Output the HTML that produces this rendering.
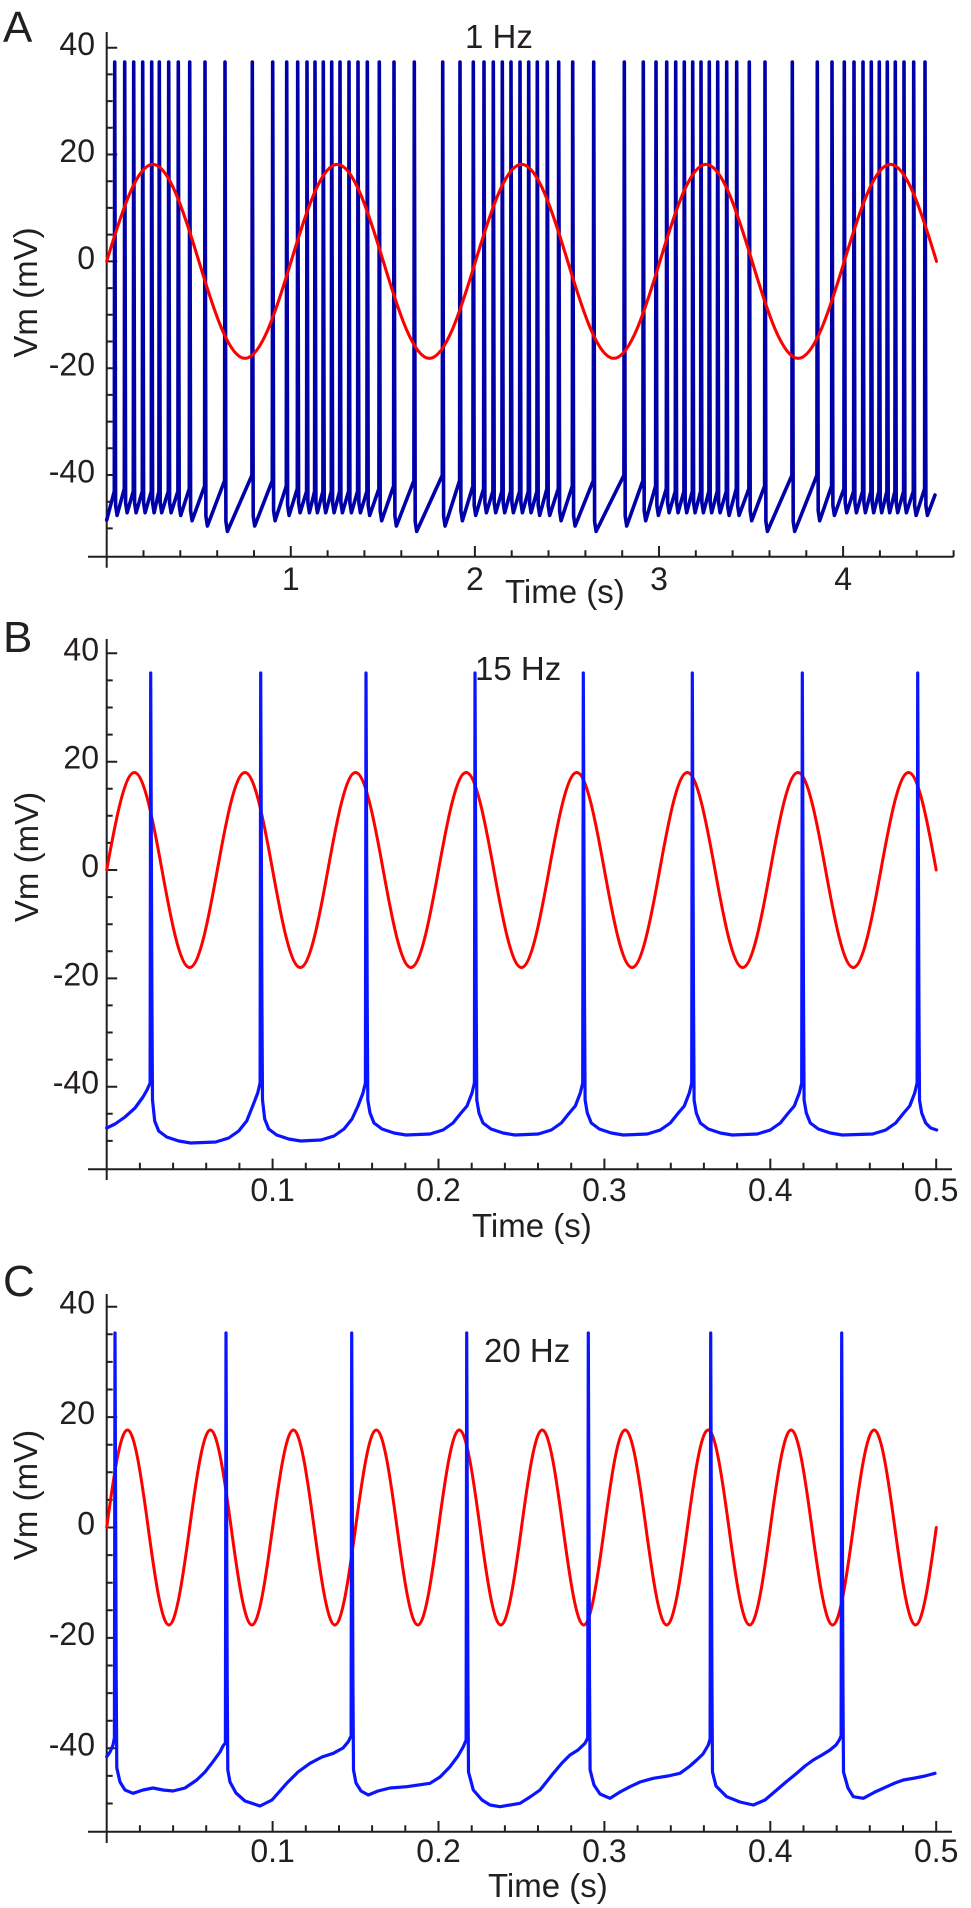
<!DOCTYPE html>
<html><head><meta charset="utf-8"><style>
html,body{margin:0;padding:0;background:#fff}
svg{display:block}
text{font-family:"Liberation Sans",Arial,sans-serif;fill:#231f20}
</style></head><body>
<svg width="971" height="1908" viewBox="0 0 971 1908" xmlns="http://www.w3.org/2000/svg" xmlns:xlink="http://www.w3.org/1999/xlink">
<defs>
<path id="pA" d="M0,0c15.04,-49.69 30.19,-97 46.1,-97c15.92,0 31.07,47.31 46.1,97c15.04,49.69 30.19,97 46.1,97c15.92,0 31.07,-47.31 46.1,-97"/>
<path id="hA" d="M0,0c15.04,-49.69 30.19,-97 46.1,-97c15.92,0 31.07,47.31 46.1,97"/>
<path id="pB" d="M0,0c9.02,-49.95 18.1,-97.5 27.65,-97.5c9.54,0 18.63,47.55 27.65,97.5c9.02,49.95 18.1,97.5 27.65,97.5c9.54,0 18.63,-47.55 27.65,-97.5"/>
<path id="hB" d="M0,0c9.02,-49.95 18.1,-97.5 27.65,-97.5c9.54,0 18.63,47.55 27.65,97.5"/>
<path id="pC" d="M0,0c6.76,-49.95 13.58,-97.5 20.74,-97.5c7.16,0 13.97,47.55 20.74,97.5c6.76,49.95 13.58,97.5 20.74,97.5c7.16,0 13.97,-47.55 20.74,-97.5"/>
</defs>
<rect width="971" height="1908" fill="#fff"/>

<!-- PANEL A -->
<text x="3" y="42" font-size="44">A</text>
<text x="465" y="48" font-size="33">1 Hz</text>
<g stroke="#231f20" stroke-width="2" fill="none">
<path d="M106.7,32V567.7M88,556.7H953.6"/>
<path d="M106.7,47.7h10.5M106.7,154.5h10.5M106.7,261.35h10.5M106.7,368.2h10.5M106.7,475h10.5"/>
<path d="M106.7,74.4h6M106.7,101.1h6M106.7,127.8h6M106.7,181.2h6M106.7,207.9h6M106.7,234.6h6M106.7,288.1h6M106.7,314.8h6M106.7,341.5h6M106.7,394.9h6M106.7,421.6h6M106.7,448.3h6M106.7,501.7h6M106.7,528.4h6"/>
<path d="M290.8,556.7v-10.7M474.9,556.7v-10.7M659,556.7v-10.7M843.1,556.7v-10.7"/>
<path d="M143.5,556.7v-6.5M180.3,556.7v-6.5M217.2,556.7v-6.5M254,556.7v-6.5M327.6,556.7v-6.5M364.4,556.7v-6.5M401.3,556.7v-6.5M438.1,556.7v-6.5M511.7,556.7v-6.5M548.5,556.7v-6.5M585.4,556.7v-6.5M622.2,556.7v-6.5M695.8,556.7v-6.5M732.6,556.7v-6.5M769.5,556.7v-6.5M806.3,556.7v-6.5M879.9,556.7v-6.5M916.7,556.7v-6.5M953.6,556.7v-6.5"/>
</g>
<g font-size="32" text-anchor="end">
<text x="95" y="55.2">40</text>
<text x="95" y="162">20</text>
<text x="95" y="268.9">0</text>
<text x="95" y="375.7">-20</text>
<text x="95" y="482.5">-40</text>
</g>
<g font-size="32" text-anchor="middle">
<text x="290.8" y="590">1</text>
<text x="474.9" y="590">2</text>
<text x="659" y="590">3</text>
<text x="843.1" y="590">4</text>
</g>
<text x="505" y="603" font-size="33">Time (s)</text>
<text transform="translate(37,292.5) rotate(-90)" text-anchor="middle" font-size="33">Vm (mV)</text>

<path fill="none" stroke="#0000a8" stroke-width="3.6" stroke-linejoin="round" stroke-linecap="round" d="M106.7,520L114.3,491.3L114.7,62L115.6,505.4L117.1,515.4L124.3,488.7L124.7,62L125.6,502.7L127.1,512.7L133.3,491.3L133.7,62L134.6,502.7L136.1,512.7L142.3,491.3L142.7,62L143.6,502.7L145.1,512.7L151.3,491.3L151.7,62L152.6,502.7L154.1,512.7L158.9,491.3L159.3,62L160.2,502.7L161.7,512.7L168.3,491.3L168.7,62L169.6,502.7L171.1,512.7L177.9,491.3L178.3,62L179.2,505.4L180.7,515.4L189.3,488.7L189.7,62L190.6,510.7L192.1,520.7L204.6,486L205,62L205.9,516L207.4,526L224.6,480.6L225,62L225.9,521.4L227.4,531.4L251.9,475.3L252.3,62L253.2,516L254.7,526L272.3,480.6L272.7,62L273.6,510.7L275.1,520.7L286.3,486L286.7,62L287.6,505.4L289.1,515.4L297.3,488.7L297.7,62L298.6,502.7L300.1,512.7L306.6,491.3L307,62L307.9,502.7L309.4,512.7L314.6,491.3L315,62L315.9,502.7L317.4,512.7L322.9,491.3L323.3,62L324.2,502.7L325.7,512.7L331.3,491.3L331.7,62L332.6,502.7L334.1,512.7L339.6,491.3L340,62L340.9,502.7L342.4,512.7L348.6,491.3L349,62L349.9,502.7L351.4,512.7L357.6,491.3L358,62L358.9,502.7L360.4,512.7L366.9,491.3L367.3,62L368.2,505.4L369.7,515.4L378.9,488.7L379.3,62L380.2,510.7L381.7,520.7L393.6,486L394,62L394.9,516L396.4,526L413.9,480.6L414.3,62L415.2,521.4L416.7,531.4L442.3,475.3L442.7,62L443.6,516L445.1,526L459.6,480.6L460,62L460.9,510.7L462.4,520.7L472.9,486L473.3,62L474.2,505.4L475.7,515.4L483.6,488.7L484,62L484.9,502.7L486.4,512.7L492.9,491.3L493.3,62L494.2,502.7L495.7,512.7L501.9,491.3L502.3,62L503.2,502.7L504.7,512.7L510.6,491.3L511,62L511.9,502.7L513.4,512.7L519.6,491.3L520,62L520.9,502.7L522.4,512.7L528.3,491.3L528.7,62L529.6,502.7L531.1,512.7L536.9,491.3L537.3,62L538.2,505.4L539.7,515.4L546.9,488.7L547.3,62L548.2,505.4L549.7,515.4L558.3,488.7L558.7,62L559.6,510.7L561.1,520.7L572.3,486L572.7,62L573.6,516L575.1,526L593.3,480.6L593.7,62L594.6,521.4L596.1,531.4L623.9,475.3L624.3,62L625.2,516L626.7,526L642.9,480.6L643.3,62L644.2,510.7L645.7,520.7L655.6,486L656,62L656.9,505.4L658.4,515.4L666.3,488.7L666.7,62L667.6,502.7L669.1,512.7L675.3,491.3L675.7,62L676.6,502.7L678.1,512.7L683.9,491.3L684.3,62L685.2,502.7L686.7,512.7L692.3,491.3L692.7,62L693.6,502.7L695.1,512.7L700.6,491.3L701,62L701.9,502.7L703.4,512.7L708.9,491.3L709.3,62L710.2,502.7L711.7,512.7L717.3,491.3L717.7,62L718.6,502.7L720.1,512.7L726.3,491.3L726.7,62L727.6,505.4L729.1,515.4L736.3,488.7L736.7,62L737.6,505.4L739.1,515.4L748.9,488.7L749.3,62L750.2,510.7L751.7,520.7L764.6,486L765,62L765.9,521.4L767.4,531.4L791.9,475.3L792.3,62L793.2,521.4L794.7,531.4L816.9,475.3L817.3,62L818.2,510.7L819.7,520.7L831.6,486L832,62L832.9,505.4L834.4,515.4L843.9,488.7L844.3,62L845.2,502.7L846.7,512.7L853.6,491.3L854,62L854.9,502.7L856.4,512.7L862.6,491.3L863,62L863.9,502.7L865.4,512.7L870.9,491.3L871.3,62L872.2,502.7L873.7,512.7L878.9,491.3L879.3,62L880.2,502.7L881.7,512.7L886.9,491.3L887.3,62L888.2,502.7L889.7,512.7L894.9,491.3L895.3,62L896.2,502.7L897.7,512.7L903.6,491.3L904,62L904.9,502.7L906.4,512.7L913.3,491.3L913.7,62L914.6,505.4L916.1,515.4L924.6,488.7L925,62L925.9,505.4L927.4,515.4L935,495"/>

<g fill="none" stroke="#ff0000" stroke-width="3.1" stroke-linecap="round">
<use xlink:href="#pA" href="#pA" transform="translate(106.7,261.35)"/>
<use xlink:href="#pA" href="#pA" transform="translate(291.1,261.35)"/>
<use xlink:href="#pA" href="#pA" transform="translate(475.5,261.35)"/>
<use xlink:href="#pA" href="#pA" transform="translate(659.9,261.35)"/>
<use xlink:href="#hA" href="#hA" transform="translate(844.3,261.35)"/>
</g>

<!-- PANEL B -->
<text x="3" y="652" font-size="44">B</text>
<text x="475" y="680" font-size="33">15 Hz</text>
<g stroke="#231f20" stroke-width="2" fill="none">
<path d="M106.7,639V1180M88,1169.3H952"/>
<path d="M106.7,653.3h10.5M106.7,761.7h10.5M106.7,870h10.5M106.7,978.4h10.5M106.7,1086.7h10.5"/>
<path d="M106.7,680.4h6M106.7,707.5h6M106.7,734.6h6M106.7,788.7h6M106.7,815.8h6M106.7,842.9h6M106.7,897.1h6M106.7,924.2h6M106.7,951.3h6M106.7,1005.4h6M106.7,1032.5h6M106.7,1059.6h6M106.7,1113.8h6M106.7,1140.9h6"/>
<path d="M272.6,1169.3v-10.7M438.5,1169.3v-10.7M604.4,1169.3v-10.7M770.3,1169.3v-10.7M936.2,1169.3v-10.7"/>
<path d="M139.9,1169.3v-6.5M173.1,1169.3v-6.5M206.2,1169.3v-6.5M239.4,1169.3v-6.5M305.8,1169.3v-6.5M339,1169.3v-6.5M372.1,1169.3v-6.5M405.3,1169.3v-6.5M471.7,1169.3v-6.5M504.9,1169.3v-6.5M538,1169.3v-6.5M571.2,1169.3v-6.5M637.6,1169.3v-6.5M670.8,1169.3v-6.5M703.9,1169.3v-6.5M737.1,1169.3v-6.5M803.5,1169.3v-6.5M836.7,1169.3v-6.5M869.8,1169.3v-6.5M903,1169.3v-6.5"/>
</g>
<g font-size="32" text-anchor="end">
<text x="99" y="660.3">40</text>
<text x="99" y="768.7">20</text>
<text x="99" y="877">0</text>
<text x="99" y="985.4">-20</text>
<text x="99" y="1093.7">-40</text>
</g>
<g font-size="32" text-anchor="middle">
<text x="272.6" y="1201">0.1</text>
<text x="438.5" y="1201">0.2</text>
<text x="604.4" y="1201">0.3</text>
<text x="770.3" y="1201">0.4</text>
<text x="936.2" y="1201">0.5</text>
</g>
<text x="472" y="1237" font-size="33">Time (s)</text>
<text transform="translate(38,857) rotate(-90)" text-anchor="middle" font-size="33">Vm (mV)</text>

<g fill="none" stroke="#ff0000" stroke-width="3" stroke-linecap="round">
<use xlink:href="#pB" href="#pB" transform="translate(106.7,870)"/>
<use xlink:href="#pB" href="#pB" transform="translate(217.3,870)"/>
<use xlink:href="#pB" href="#pB" transform="translate(327.9,870)"/>
<use xlink:href="#pB" href="#pB" transform="translate(438.5,870)"/>
<use xlink:href="#pB" href="#pB" transform="translate(549.1,870)"/>
<use xlink:href="#pB" href="#pB" transform="translate(659.7,870)"/>
<use xlink:href="#pB" href="#pB" transform="translate(770.3,870)"/>
<use xlink:href="#hB" href="#hB" transform="translate(880.9,870)"/>
</g>

<path fill="none" stroke="#0a14ff" stroke-width="3.2" stroke-linejoin="round" stroke-linecap="round" d="M106.7,1128L115,1124L125,1117L135,1108L143,1097L147,1090L150.1,1083L150.7,673L151.9,1000L152.5,1100L154.7,1121L158.7,1131L166.7,1137L178.7,1141L190.7,1143L215.7,1142L228.7,1138L238.7,1131L246.7,1121L252.7,1106L257.7,1093L260.1,1083L260.7,673L261.9,1000L262.5,1100L264.7,1119L268.7,1129L276.7,1135L288.7,1139L300.7,1141L321,1140L334,1136L344,1129L352,1119L358,1106L363,1093L365.4,1083L366,673L367.2,1000L367.8,1100L370,1113L374,1123L382,1129L394,1133L406,1135L430,1134L443,1130L453,1123L461,1113L467,1106L472,1093L474.4,1083L475,673L476.2,1000L476.8,1100L479,1113L483,1123L491,1129L503,1133L515,1135L538.3,1134L551.3,1130L561.3,1123L569.3,1113L575.3,1106L580.3,1093L582.7,1083L583.3,673L584.5,1000L585.1,1100L587.3,1113L591.3,1123L599.3,1129L611.3,1133L623.3,1135L647.3,1134L660.3,1130L670.3,1123L678.3,1113L684.3,1106L689.3,1093L691.7,1083L692.3,673L693.5,1000L694.1,1100L696.3,1113L700.3,1123L708.3,1129L720.3,1133L732.3,1135L757.3,1134L770.3,1130L780.3,1123L788.3,1113L794.3,1106L799.3,1093L801.7,1083L802.3,673L803.5,1000L804.1,1100L806.3,1113L810.3,1123L818.3,1129L830.3,1133L842.3,1135L872.7,1134L885.7,1130L895.7,1123L903.7,1113L909.7,1106L914.7,1093L917.1,1083L917.7,673L918.9,1000L919.5,1100L921.7,1113L925.7,1123L930.7,1128L936.7,1130"/>

<!-- PANEL C -->
<text x="3" y="1296" font-size="44">C</text>
<text x="484" y="1362" font-size="33">20 Hz</text>
<g stroke="#231f20" stroke-width="2" fill="none">
<path d="M106.7,1294V1843M88,1831.7H952"/>
<path d="M106.7,1306.7h10.5M106.7,1417.1h10.5M106.7,1527.5h10.5M106.7,1637.9h10.5M106.7,1748.3h10.5"/>
<path d="M106.7,1334.3h6M106.7,1361.9h6M106.7,1389.5h6M106.7,1444.7h6M106.7,1472.3h6M106.7,1499.9h6M106.7,1555.1h6M106.7,1582.7h6M106.7,1610.3h6M106.7,1665.5h6M106.7,1693.1h6M106.7,1720.7h6M106.7,1775.9h6M106.7,1803.5h6"/>
<path d="M272.6,1831.7v-10.7M438.5,1831.7v-10.7M604.4,1831.7v-10.7M770.3,1831.7v-10.7M936.2,1831.7v-10.7"/>
<path d="M139.9,1831.7v-6.5M173.1,1831.7v-6.5M206.2,1831.7v-6.5M239.4,1831.7v-6.5M305.8,1831.7v-6.5M339,1831.7v-6.5M372.1,1831.7v-6.5M405.3,1831.7v-6.5M471.7,1831.7v-6.5M504.9,1831.7v-6.5M538,1831.7v-6.5M571.2,1831.7v-6.5M637.6,1831.7v-6.5M670.8,1831.7v-6.5M703.9,1831.7v-6.5M737.1,1831.7v-6.5M803.5,1831.7v-6.5M836.7,1831.7v-6.5M869.8,1831.7v-6.5M903,1831.7v-6.5"/>
</g>
<g font-size="32" text-anchor="end">
<text x="95" y="1313.7">40</text>
<text x="95" y="1424.1">20</text>
<text x="95" y="1534.5">0</text>
<text x="95" y="1644.9">-20</text>
<text x="95" y="1755.3">-40</text>
</g>
<g font-size="32" text-anchor="middle">
<text x="272.6" y="1862">0.1</text>
<text x="438.5" y="1862">0.2</text>
<text x="604.4" y="1862">0.3</text>
<text x="770.3" y="1862">0.4</text>
<text x="936.2" y="1862">0.5</text>
</g>
<text x="488" y="1897" font-size="33">Time (s)</text>
<text transform="translate(37,1495) rotate(-90)" text-anchor="middle" font-size="33">Vm (mV)</text>

<g fill="none" stroke="#ff0000" stroke-width="3" stroke-linecap="round">
<use xlink:href="#pC" href="#pC" transform="translate(106.7,1527.5)"/>
<use xlink:href="#pC" href="#pC" transform="translate(189.66,1527.5)"/>
<use xlink:href="#pC" href="#pC" transform="translate(272.62,1527.5)"/>
<use xlink:href="#pC" href="#pC" transform="translate(355.58,1527.5)"/>
<use xlink:href="#pC" href="#pC" transform="translate(438.54,1527.5)"/>
<use xlink:href="#pC" href="#pC" transform="translate(521.5,1527.5)"/>
<use xlink:href="#pC" href="#pC" transform="translate(604.46,1527.5)"/>
<use xlink:href="#pC" href="#pC" transform="translate(687.42,1527.5)"/>
<use xlink:href="#pC" href="#pC" transform="translate(770.38,1527.5)"/>
<use xlink:href="#pC" href="#pC" transform="translate(853.34,1527.5)"/>
</g>

<path fill="none" stroke="#0a14ff" stroke-width="3.2" stroke-linejoin="round" stroke-linecap="round" d="M106.7,1756.7L110,1752L113,1745L114.4,1738L115,1333L116.2,1680L116.8,1768L120,1782L125,1790L133,1793.3L143,1790L153,1788L163,1790L173,1791L185,1788L196.7,1780L205,1772L213,1761.7L220,1752L223,1746L225.4,1743L226,1333L227.2,1680L227.8,1770L230,1782L236,1793L245,1801L260,1806L272,1800L286.7,1783.3L298,1772L310,1763.3L322,1757L333.3,1753.3L343,1748L348.3,1741.7L351.1,1736L351.7,1333L352.9,1680L353.5,1770L356,1783L361,1791L368.3,1795L378,1791L390,1788L406.7,1786.7L430,1783.3L440,1777L450,1766.7L458,1756L463.3,1746.7L466.1,1740L466.7,1333L467.9,1680L468.5,1772L473.3,1790L482,1800L490,1805L500,1806.7L520,1803.3L530,1797L540,1790L553.3,1773.3L562,1763L570,1755L578,1750L585,1743.3L587.7,1738L588.3,1333L589.5,1680L590.1,1770L594,1785L600,1794L610,1798.3L620,1792L630,1786.7L640,1782L653.3,1778.3L668,1776L680,1773.3L690,1766L696.7,1760L703,1754L708.3,1745L710.1,1739L710.7,1333L711.9,1680L712.5,1772L716,1786L726.7,1796.7L740,1802L753.3,1805L765,1800L776.7,1790L786,1782L796.7,1773.3L805,1766L813.3,1760L822,1755L830,1750L836,1745L839.3,1740L841.1,1736L841.7,1333L842.9,1680L843.5,1772L848,1788L853.3,1796.7L863.3,1798.3L875,1792L886.7,1786.7L895,1783L903.3,1780L915,1778L925,1776L935,1773.3"/>
</svg>
</body></html>
